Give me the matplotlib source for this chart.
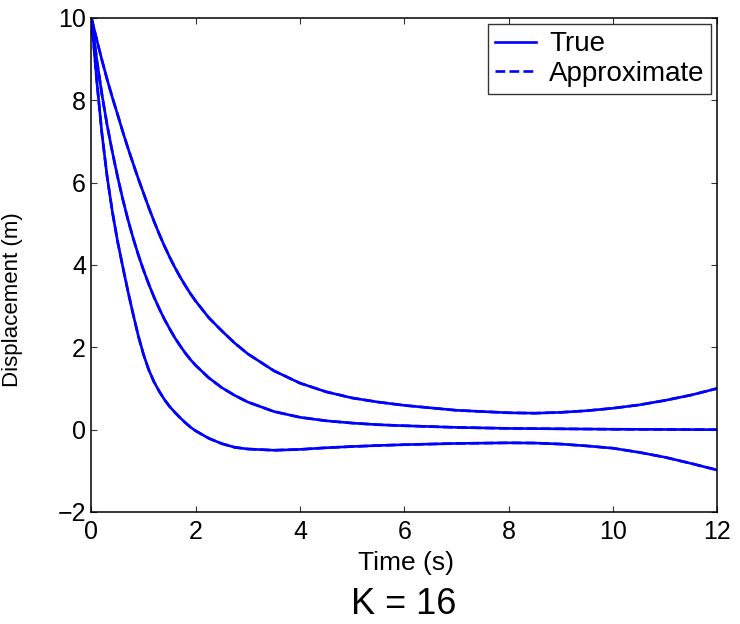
import matplotlib
matplotlib.use("Agg")
import matplotlib.pyplot as plt

plt.rcParams['font.family'] = ['Liberation Sans', 'DejaVu Sans']

t = [0, 0.1, 0.2, 0.3, 0.4, 0.5, 0.6, 0.7, 0.8, 0.9,
     1.0, 1.1, 1.2, 1.3, 1.4, 1.5, 1.6, 1.7, 1.8, 1.9,
     2.0, 2.25, 2.5, 2.75, 3.0, 3.5, 4.0, 4.5, 5.0, 5.5,
     6.0, 7.0, 8.0, 8.5, 9.0, 9.5, 10.0, 10.5, 11.0, 11.5, 12.0]

x_upper = [10, 9.48, 8.98, 8.51, 8.07, 7.66, 7.24, 6.84, 6.46, 6.09,
           5.74, 5.39, 5.06, 4.75, 4.46, 4.19, 3.94, 3.71, 3.50, 3.30,
           3.12, 2.72, 2.40, 2.10, 1.84, 1.43, 1.13, 0.92, 0.77, 0.67,
           0.59, 0.47, 0.41, 0.40, 0.42, 0.46, 0.52, 0.60, 0.71, 0.84, 1.0]
x_middle = [10, 9.0, 8.15, 7.4, 6.75, 6.15, 5.6, 5.1, 4.65, 4.24,
            3.87, 3.53, 3.22, 2.94, 2.68, 2.45, 2.23, 2.04, 1.86, 1.70,
            1.56, 1.26, 1.02, 0.83, 0.67, 0.44, 0.30, 0.215, 0.16, 0.12,
            0.095, 0.055, 0.03, 0.025, 0.02, 0.015, 0.01, 0.008, 0.005, 0.002, 0.0]
x_lower = [10, 8.5, 7.2, 6.15, 5.3, 4.58, 3.96, 3.36, 2.8, 2.27,
           1.82, 1.45, 1.16, 0.93, 0.73, 0.56, 0.42, 0.29, 0.17, 0.06,
           -0.03, -0.21, -0.34, -0.43, -0.47, -0.50, -0.48, -0.44, -0.41, -0.385,
           -0.365, -0.335, -0.32, -0.325, -0.35, -0.395, -0.45, -0.55, -0.67, -0.82, -0.98]

curves = [x_upper, x_middle, x_lower]

xticks = [0, 2, 4, 6, 8, 10, 12]
yticks = [-2, 0, 2, 4, 6, 8, 10]

fig = plt.figure(figsize=(7.4, 6.24), dpi=100)
ax = fig.add_axes([0.1236, 0.1795, 0.8454, 0.7917])

blue = (0, 0, 1)
for i, x in enumerate(curves):
    ax.plot(t, x, color=blue, lw=1.9, ls='-', label='True' if i == 0 else None)
for i, x in enumerate(curves):
    ax.plot(t, x, color=blue, lw=1.9, ls='--', label='Approximate' if i == 0 else None)

ax.set_xlim(0, 12)
ax.set_ylim(-2, 10)
ax.set_xticks(xticks)
ax.set_yticks(yticks)
ax.tick_params(direction='in', length=4.5, width=0.8, labelsize=18,
               top=True, right=True, color='#333333')
ax.tick_params(axis='x', pad=6)
ax.tick_params(axis='y', pad=4)
for s in ax.spines.values():
    s.set_linewidth(1.1)

ax.set_xlabel('Time (s)', fontsize=19)
ax.xaxis.set_label_coords(0.503, -0.078)
ax.set_ylabel('Displacement (m)', fontsize=16)
ax.yaxis.set_label_coords(-0.11, 0.429)

leg = ax.legend(loc='upper right', bbox_to_anchor=(0.991, 0.987), borderaxespad=0,
                fontsize=20, frameon=True, fancybox=False, edgecolor='black',
                handlelength=1.5, handletextpad=0.45, labelspacing=0.12, borderpad=0.25)
leg.get_frame().set_linewidth(1.0)

fig.text(404 / 740, 10 / 624, 'K = 16', fontsize=26, ha='center', va='baseline')

fig.savefig('out.png', dpi=100)
